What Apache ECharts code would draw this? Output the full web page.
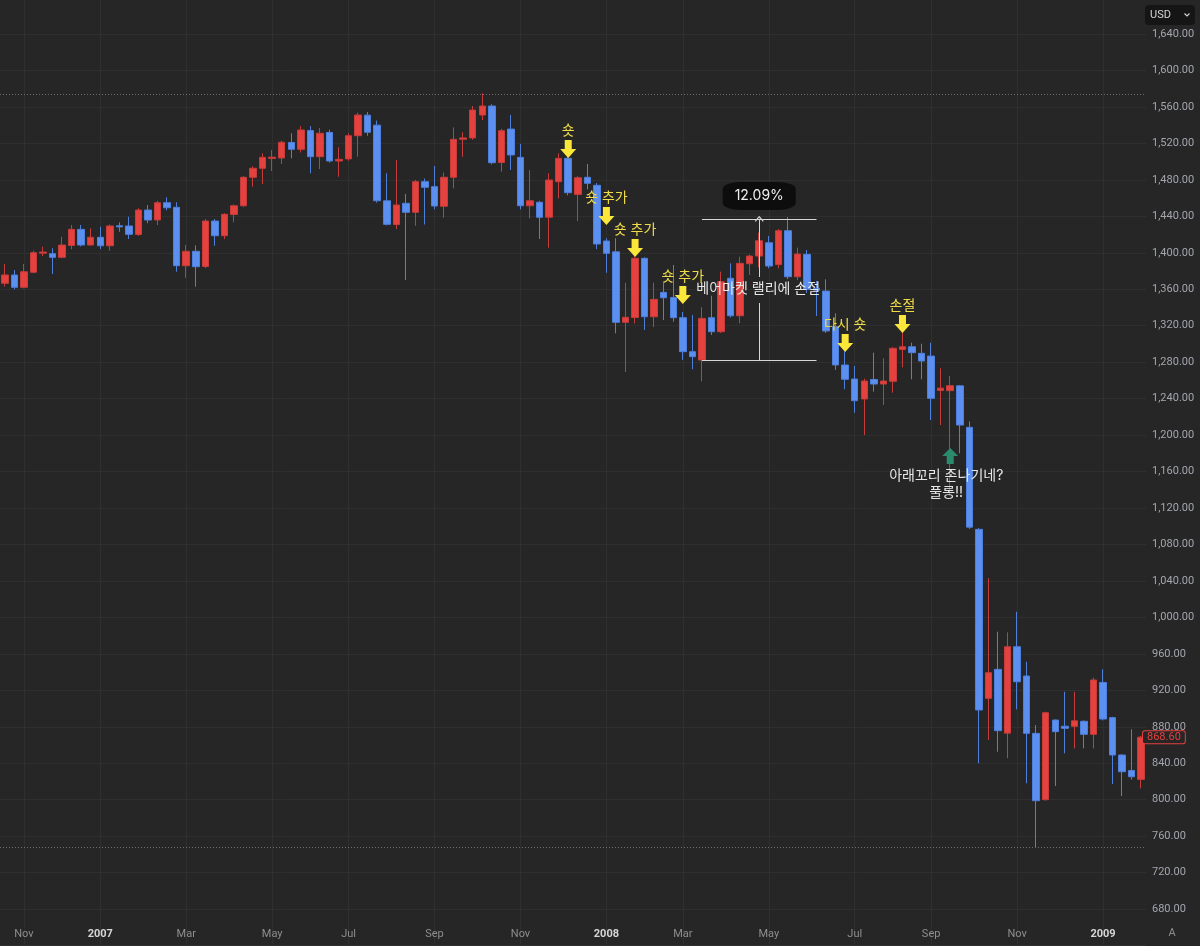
<!DOCTYPE html>
<html>
<head>
<meta charset="utf-8">
<title>S&amp;P 500 주봉</title>
<script src="https://cdn.jsdelivr.net/npm/echarts@6/dist/echarts.min.js"></script>
<style>
  html, body { margin: 0; padding: 0; background: #262626; }
  #chart { width: 1200px; height: 946px; }
</style>
</head>
<body>
<div id="chart"></div>
<script>
// 주봉 (월요일 기준)
const weeks = [
  '2006-10-23', '2006-10-30', '2006-11-06', '2006-11-13', '2006-11-20', '2006-11-27', '2006-12-04', '2006-12-11', '2006-12-18', '2006-12-25',
  '2007-01-01', '2007-01-08', '2007-01-15', '2007-01-22', '2007-01-29', '2007-02-05', '2007-02-12', '2007-02-19', '2007-02-26',
  '2007-03-05', '2007-03-12', '2007-03-19', '2007-03-26', '2007-04-02', '2007-04-09', '2007-04-16', '2007-04-23', '2007-04-30',
  '2007-05-07', '2007-05-14', '2007-05-21', '2007-05-28', '2007-06-04', '2007-06-11', '2007-06-18', '2007-06-25',
  '2007-07-02', '2007-07-09', '2007-07-16', '2007-07-23', '2007-07-30', '2007-08-06', '2007-08-13', '2007-08-20', '2007-08-27',
  '2007-09-03', '2007-09-10', '2007-09-17', '2007-09-24', '2007-10-01', '2007-10-08', '2007-10-15', '2007-10-22', '2007-10-29',
  '2007-11-05', '2007-11-12', '2007-11-19', '2007-11-26', '2007-12-03', '2007-12-10', '2007-12-17', '2007-12-24', '2007-12-31',
  '2008-01-07', '2008-01-14', '2008-01-21', '2008-01-28', '2008-02-04', '2008-02-11', '2008-02-18', '2008-02-25',
  '2008-03-03', '2008-03-10', '2008-03-17', '2008-03-24', '2008-03-31', '2008-04-07', '2008-04-14', '2008-04-21', '2008-04-28',
  '2008-05-05', '2008-05-12', '2008-05-19', '2008-05-26', '2008-06-02', '2008-06-09', '2008-06-16', '2008-06-23', '2008-06-30',
  '2008-07-07', '2008-07-14', '2008-07-21', '2008-07-28', '2008-08-04', '2008-08-11', '2008-08-18', '2008-08-25',
  '2008-09-01', '2008-09-08', '2008-09-15', '2008-09-22', '2008-09-29', '2008-10-06', '2008-10-13', '2008-10-20', '2008-10-27',
  '2008-11-03', '2008-11-10', '2008-11-17', '2008-11-24', '2008-12-01', '2008-12-08', '2008-12-15', '2008-12-22', '2008-12-29',
  '2009-01-05', '2009-01-12', '2009-01-19', '2009-01-26', '2009-02-02'
];

const opens = [
  1366.5, 1375.6, 1362.1, 1378.6, 1399.6, 1399.0, 1395.0, 1408.0, 1425.7, 1408.5,
  1417.0, 1407.7, 1429.6, 1429.4, 1420.0, 1446.9, 1436.0, 1454.9, 1449.9,
  1385.8, 1401.6, 1385.0, 1434.8, 1418.7, 1442.0, 1451.6, 1482.8, 1492.7,
  1503.4, 1504.0, 1521.0, 1513.5, 1534.0, 1505.4, 1532.0, 1500.7,
  1503.0, 1528.4, 1551.0, 1540.0, 1457.0, 1431.0, 1454.3, 1444.4, 1478.0,
  1472.5, 1451.0, 1482.8, 1524.5, 1526.0, 1551.1, 1561.0, 1499.0, 1535.7,
  1504.7, 1451.6, 1455.4, 1439.0, 1478.0, 1503.6, 1464.0, 1482.8, 1474.0,
  1412.9, 1401.0, 1323.7, 1329.0, 1393.9, 1329.8, 1356.6, 1351.0,
  1328.8, 1291.5, 1282.3, 1328.8, 1313.4, 1372.0, 1330.9, 1388.0, 1396.4,
  1411.0, 1387.0, 1424.2, 1373.7, 1398.3, 1361.0, 1358.0, 1318.9, 1276.9,
  1261.5, 1239.6, 1261.0, 1256.0, 1259.0, 1294.0, 1296.9, 1289.7,
  1286.7, 1249.0, 1248.7, 1254.0, 1208.5, 1096.6, 911.2, 943.0, 873.0,
  967.8, 935.7, 872.8, 800.0, 887.4, 880.6, 880.5, 886.0, 871.7,
  928.6, 890.0, 849.0, 832.0, 822.3
];

const closes = [
  1375.6, 1362.1, 1379.2, 1400.1, 1400.8, 1395.0, 1408.5, 1425.7, 1408.5, 1417.0,
  1407.7, 1429.4, 1428.4, 1420.2, 1446.9, 1435.9, 1454.9, 1449.4, 1385.8,
  1401.6, 1384.7, 1434.8, 1418.7, 1442.2, 1451.6, 1482.8, 1492.7, 1504.7,
  1504.9, 1521.2, 1513.5, 1534.7, 1505.4, 1531.1, 1500.7, 1502.5,
  1528.4, 1551.1, 1532.2, 1457.1, 1431.2, 1452.4, 1444.4, 1478.0, 1471.8,
  1451.3, 1482.8, 1524.5, 1526.0, 1556.6, 1561.0, 1498.8, 1533.9, 1507.3,
  1451.6, 1457.1, 1438.9, 1479.8, 1503.6, 1465.9, 1482.3, 1476.2, 1409.6,
  1399.4, 1323.7, 1329.2, 1393.9, 1329.8, 1348.9, 1350.7, 1328.8,
  1291.5, 1286.0, 1328.0, 1313.4, 1368.3, 1330.9, 1388.4, 1396.4, 1413.2,
  1385.5, 1424.2, 1373.7, 1398.6, 1360.0, 1359.0, 1314.2, 1276.9, 1261.2,
  1237.7, 1259.3, 1256.0, 1259.3, 1295.2, 1296.9, 1290.4, 1281.3,
  1240.3, 1251.5, 1254.2, 1211.0, 1099.0, 898.4, 939.3, 875.7, 967.8,
  929.4, 872.8, 798.9, 895.4, 874.6, 878.3, 886.5, 871.7, 931.3,
  888.5, 849.0, 830.7, 825.2, 868.6
];

const lows = [
  1362.8, 1359.9, 1361.0, 1377.5, 1396.4, 1376.7, 1394.0, 1403.8, 1407.0, 1408.0,
  1404.1, 1402.3, 1423.1, 1415.1, 1418.5, 1432.5, 1430.5, 1446.6, 1379.2,
  1372.6, 1362.8, 1383.0, 1407.7, 1415.0, 1433.4, 1450.0, 1472.5, 1475.4,
  1489.7, 1497.4, 1503.6, 1510.0, 1487.2, 1491.9, 1499.0, 1483.4,
  1501.0, 1505.4, 1528.4, 1455.0, 1430.0, 1426.0, 1370.1, 1429.7, 1431.0,
  1447.6, 1438.5, 1470.7, 1505.4, 1524.0, 1545.6, 1497.0, 1489.0, 1490.8,
  1447.6, 1437.8, 1415.1, 1405.6, 1459.7, 1463.0, 1434.8, 1469.6, 1404.0,
  1378.1, 1311.6, 1269.2, 1322.5, 1315.3, 1318.5, 1326.2, 1324.4,
  1282.4, 1272.2, 1259.0, 1309.8, 1312.0, 1329.0, 1322.6, 1375.6, 1384.0,
  1383.0, 1383.0, 1371.0, 1370.0, 1356.0, 1330.6, 1312.0, 1271.4, 1250.2,
  1224.5, 1200.1, 1247.6, 1233.0, 1246.5, 1274.3, 1261.2, 1261.2,
  1216.5, 1211.0, 1133.5, 1180.0, 1097.0, 839.9, 865.5, 852.6, 845.4,
  899.1, 818.0, 747.5, 799.0, 815.0, 850.9, 856.3, 856.3, 856.3,
  887.0, 817.2, 804.0, 822.0, 812.5
];

const highs = [
  1387.7, 1381.1, 1387.7, 1402.3, 1406.7, 1404.9, 1417.6, 1430.5, 1430.5, 1426.8,
  1428.6, 1431.0, 1433.4, 1439.6, 1448.8, 1452.4, 1457.0, 1460.8, 1455.4,
  1408.5, 1408.0, 1437.0, 1437.0, 1443.5, 1453.0, 1484.0, 1495.0, 1509.0,
  1512.7, 1523.0, 1531.1, 1539.0, 1539.0, 1537.0, 1535.0, 1515.7,
  1531.1, 1553.7, 1554.4, 1545.0, 1487.2, 1501.8, 1464.5, 1480.0, 1481.5,
  1495.2, 1488.0, 1537.6, 1532.2, 1561.0, 1575.0, 1563.0, 1536.0, 1551.1,
  1519.3, 1490.8, 1457.0, 1487.2, 1509.0, 1515.0, 1484.0, 1497.4, 1476.5,
  1416.0, 1416.0, 1367.2, 1396.0, 1395.0, 1367.3, 1367.0, 1386.6,
  1335.0, 1331.7, 1340.2, 1352.9, 1379.2, 1388.4, 1395.7, 1398.0, 1422.0,
  1418.4, 1426.0, 1439.1, 1405.6, 1403.0, 1369.0, 1370.9, 1333.6, 1292.0,
  1275.8, 1262.0, 1290.4, 1284.2, 1296.5, 1313.0, 1301.3, 1300.2,
  1301.3, 1273.3, 1264.8, 1255.0, 1215.0, 1098.0, 1042.9, 984.3, 983.6,
  1006.2, 951.3, 881.9, 896.5, 888.0, 918.4, 918.4, 887.0, 934.0,
  943.0, 891.0, 850.0, 877.2, 870.0
];

// 최고/최저 점선, 현재가
const periodHigh = 1574.2;
const periodLow = 747.5;
const lastPrice = 868.6;

// 매매 메모 (주, 가격, 글)
const shortNotes = [
  { week: '2007-12-10', price: 1504.0, text: '숏' },
  { week: '2008-01-07', price: 1430.5, text: '숏 추가' },
  { week: '2008-01-28', price: 1395.3, text: '숏 추가' },
  { week: '2008-03-03', price: 1343.8, text: '숏 추가' },
  { week: '2008-06-30', price: 1291.1, text: '다시 숏' },
  { week: '2008-08-11', price: 1311.9, text: '손절' }
];
const longNote = { week: '2008-09-15', price: 1185.8, text: '아래꼬리 존나기네?\n풀롱!!' };
const rallyNote = { week: '2008-04-28', price: 1360.2, text: '베어마켓 랠리에 손절' };

// 측정 도구: 저점 -> 고점
const measure = { from: '2008-03-17', to: '2008-06-09', at: '2008-04-28', low: 1282.3, high: 1437.3, gapLow: 1344.9, gapHigh: 1373.4, boxPrice: 1462.3 };

const candles = weeks.map((w, i) => [opens[i], closes[i], lows[i], highs[i]]);

const FONT = 'Inter, "Noto Sans CJK KR", "Noto Sans", sans-serif';
const AXIS_FONT = 'Roboto, "Liberation Sans", sans-serif';
const UP = '#e5413f';
const DOWN = '#5b8ff0';

function isTickWeek(i) {
  if (i === 0) return false;
  const m = +weeks[i].slice(5, 7);
  const pm = +weeks[i - 1].slice(5, 7);
  return m !== pm && m % 2 === 1;
}
const monthNames = ['Jan', 'Feb', 'Mar', 'Apr', 'May', 'Jun', 'Jul', 'Aug', 'Sep', 'Oct', 'Nov', 'Dec'];

const downArrow = 'path://M4.5,0 L11.5,0 L11.5,9 L16,9 L8,18 L0,9 L4.5,9 Z';
const upArrow = 'path://M8,0 L16,8 L11.5,8 L11.5,16 L4.5,16 L4.5,8 L0,8 Z';
const chevron = 'path://M0,7 L5,0 L10,7 L9,8 L5,2.4 L1,8 Z';

const pointData = shortNotes.map(n => ({
  coord: [n.week, n.price],
  symbol: downArrow,
  symbolSize: [16, 18],
  symbolOffset: [0, -9],
  itemStyle: { color: '#fbe63a' },
  label: {
    show: true, position: 'top', distance: 2, formatter: n.text,
    color: '#f0dc48', fontSize: 14, fontFamily: FONT
  }
}));

pointData.push({
  coord: [longNote.week, longNote.price],
  symbol: upArrow,
  symbolSize: [16, 16],
  symbolOffset: [0, 8],
  itemStyle: { color: '#2b8a6c' },
  label: {
    show: true, position: 'bottom', distance: 3, offset: [-4, 0], formatter: longNote.text,
    color: '#e6e6e6', fontSize: 14, lineHeight: 17, fontFamily: FONT, align: 'center'
  }
});

pointData.push({
  coord: [rallyNote.week, rallyNote.price],
  symbol: 'rect',
  symbolSize: 1,
  itemStyle: { color: 'transparent' },
  label: {
    show: true, position: 'inside', offset: [-1, 0], formatter: rallyNote.text,
    color: '#e6e6e6', fontSize: 14, fontFamily: FONT
  }
});

const pct = ((measure.high / measure.low - 1) * 100).toFixed(2) + '%';
pointData.push({
  coord: [measure.at, measure.boxPrice],
  symbol: 'roundRect',
  symbolSize: [73, 28],
  itemStyle: { color: '#0d0d0d' },
  label: {
    show: true, position: 'inside', formatter: pct,
    color: '#f0f0f0', fontSize: 14, fontFamily: FONT
  }
});

const measureStyle = { color: '#d6d6d6', width: 1, type: 'solid' };
const lineData = [
  [{ coord: [measure.from, measure.high] }, { coord: [measure.to, measure.high] }],
  [{ coord: [measure.from, measure.low] }, { coord: [measure.to, measure.low] }],
  [{ coord: [measure.at, measure.low] }, { coord: [measure.at, measure.gapLow] }],
  [{ coord: [measure.at, measure.gapHigh] }, { coord: [measure.at, measure.high], symbol: chevron, symbolSize: [9, 6] }],
  { yAxis: periodHigh, lineStyle: { color: '#6e6e6e', type: [1, 2], width: 1 } },
  { yAxis: periodLow, lineStyle: { color: '#6e6e6e', type: [1, 2], width: 1 } },
  {
    yAxis: lastPrice,
    lineStyle: { color: 'rgba(0,0,0,0)', width: 1 },
    label: {
      show: true, position: 'end', distance: -3, formatter: lastPrice.toFixed(2),
      color: UP, fontSize: 11, fontFamily: AXIS_FONT,
      backgroundColor: '#262626', borderColor: UP, borderWidth: 1, borderRadius: 2,
      padding: [1, 4, 0, 4]
    }
  }
];

const chart = echarts.init(document.getElementById('chart'));

chart.setOption({
  backgroundColor: '#262626',
  animation: false,
  textStyle: { fontFamily: FONT },
  grid: { left: 0, right: 54, top: -2.46, height: 948, outerBoundsMode: 'none', containLabel: false },
  xAxis: {
    type: 'category',
    data: weeks,
    boundaryGap: true,
    offset: -25,
    axisLine: { show: false },
    axisTick: { show: false },
    axisLabel: {
      interval: (i) => isTickWeek(i),
      color: '#8e8e8e',
      fontSize: 11,
      margin: 8,
      fontFamily: AXIS_FONT,
      formatter: (v) => {
        const m = +v.slice(5, 7);
        return m === 1 ? '{yr|' + v.slice(0, 4) + '}' : monthNames[m - 1];
      },
      rich: { yr: { color: '#d6d6d6', fontWeight: 'bold', fontSize: 11, fontFamily: AXIS_FONT } }
    },
    splitLine: {
      show: true,
      interval: (i) => isTickWeek(i),
      alignWithLabel: true,
      lineStyle: { color: '#2f2f2f', width: 1 }
    }
  },
  yAxis: {
    type: 'value',
    position: 'right',
    min: 640,
    max: 1680,
    interval: 40,
    axisLine: { show: false },
    axisTick: { show: false },
    splitLine: { lineStyle: { color: '#2f2f2f', width: 1 } },
    axisLabel: {
      color: '#a3a6ae',
      fontSize: 11,
      margin: 6,
      fontFamily: AXIS_FONT,
      formatter: (v) => (v < 660 || v > 1660) ? '' :
        v.toLocaleString('en-US', { minimumFractionDigits: 2, maximumFractionDigits: 2 })
    }
  },
  series: [{
    type: 'candlestick',
    data: candles,
    barWidth: 7,
    itemStyle: {
      color: UP,
      color0: DOWN,
      borderColor: '#c73c3a',
      borderColor0: '#4f7fdc',
      borderWidth: 1
    },
    emphasis: { disabled: true },
    markPoint: { silent: true, data: pointData },
    markLine: {
      silent: true,
      symbol: ['none', 'none'],
      label: { show: false },
      lineStyle: measureStyle,
      emphasis: { disabled: true },
      data: lineData
    }
  }],
  graphic: [
    { type: 'rect', shape: { x: 1145, y: 5, width: 50, height: 20, r: 4 }, style: { fill: '#151515' } },
    { type: 'text', x: 1150, y: 15, style: { text: 'USD', fill: '#d4d4d4', fontSize: 11, fontFamily: AXIS_FONT, verticalAlign: 'middle' } },
    { type: 'polyline', shape: { points: [[1184.5, 13.5], [1187, 16], [1189.5, 13.5]] }, style: { stroke: '#cfcfcf', lineWidth: 1.2, fill: null } },
    { type: 'text', x: 1172, y: 933, style: { text: 'A', fill: '#8e8e8e', fontSize: 11, fontFamily: AXIS_FONT, align: 'center', verticalAlign: 'middle' } }
  ]
});
</script>
</body>
</html>
